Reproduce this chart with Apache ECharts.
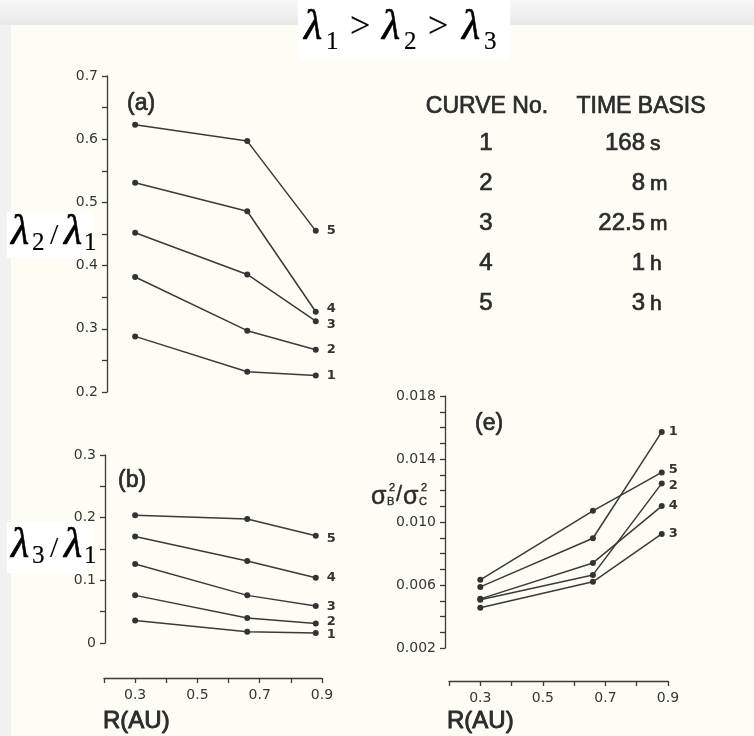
<!DOCTYPE html>
<html>
<head>
<meta charset="utf-8">
<script src="https://cdn.jsdelivr.net/npm/echarts@6/dist/echarts.min.js"></script>
<style>
  html, body { margin: 0; padding: 0; background: #fdfdf6; }
  #chart { width: 754px; height: 736px; }
</style>
</head>
<body>
<div id="chart"></div>
<script>
// Heliocentric distance of the three observation points (AU)
const radius = [0.3, 0.66, 0.88];

// Curve numbers and their time bases
const curveIds = ['1', '2', '3', '4', '5'];
const timeValues = ['168', '8', '22.5', '1', '3'];
const timeUnits = ['s', 'm', 'm', 'h', 'h'];

// (a) eigenvalue ratio lambda2 / lambda1, one row per curve
const ratio21 = [
  [0.288, 0.232, 0.226],
  [0.382, 0.297, 0.267],
  [0.452, 0.386, 0.312],
  [0.531, 0.486, 0.327],
  [0.623, 0.597, 0.455]
];

// (b) eigenvalue ratio lambda3 / lambda1
const ratio31 = [
  [0.036, 0.018, 0.016],
  [0.076, 0.040, 0.031],
  [0.126, 0.076, 0.059],
  [0.170, 0.131, 0.104],
  [0.204, 0.198, 0.171]
];

// (e) variance ratio sigma_B^2 / sigma_C^2
const varRatio = [
  [0.00588, 0.00897, 0.01572],
  [0.00506, 0.00664, 0.01245],
  [0.00455, 0.00620, 0.00924],
  [0.00512, 0.00740, 0.01101],
  [0.00633, 0.01071, 0.01315]
];

// Tick labels
const xTickLabels = ['0.3', '0.5', '0.7', '0.9'];
const yTickLabelsA = ['0.2', '0.3', '0.4', '0.5', '0.6', '0.7'];
const yTickLabelsB = ['0', '0.1', '0.2', '0.3'];
const yTickLabelsE = ['0.002', '0.006', '0.010', '0.014', '0.018'];

const INK = '#3a3a3a';
const TEXT = '#2b2b2b';
const SANS = '"Liberation Sans", Arial, Helvetica, sans-serif';
const WIDE = '"DejaVu Sans", Verdana, sans-serif';
const SERIF = '"Liberation Serif", "Times New Roman", serif';

function pick(labels) {
  return function (v) {
    const hit = labels.find(t => Math.abs(parseFloat(t) - v) < 1e-9);
    return hit === undefined ? '' : hit;
  };
}

const tickLabelStyle = { color: '#363636', fontSize: 14, fontFamily: WIDE };

function yAxisFor(gridIndex, min, max, step, labels, offset) {
  return {
    type: 'value', gridIndex, min, max, interval: step, offset: offset || 0,
    axisLine: { show: true, onZero: false, lineStyle: { color: INK, width: 1.3 } },
    axisTick: { show: true, length: 5, lineStyle: { color: INK, width: 1.3 } },
    axisLabel: Object.assign({ margin: 9, formatter: pick(labels),
      showMinLabel: true, showMaxLabel: true }, tickLabelStyle),
    splitLine: { show: false }
  };
}

function xAxisFor(gridIndex, offset, visible) {
  return {
    type: 'value', gridIndex, min: 0.2, max: 0.9, interval: 0.1, show: visible,
    position: 'bottom', offset,
    axisLine: { show: true, onZero: false, lineStyle: { color: INK, width: 1.3 } },
    axisTick: { show: true, length: 5, lineStyle: { color: INK, width: 1.3 } },
    axisLabel: Object.assign({ margin: 10, formatter: pick(xTickLabels),
      showMinLabel: true, showMaxLabel: true }, tickLabelStyle),
    splitLine: { show: false }
  };
}

// end-of-curve number labels; nudges keep close neighbours apart
function curves(values, axisIndex, distance, nudges) {
  return values.map((vals, k) => ({
    type: 'line',
    name: 'curve ' + curveIds[k],
    xAxisIndex: axisIndex,
    yAxisIndex: axisIndex,
    data: vals.map((v, i) => i === vals.length - 1
      ? { value: [radius[i], v], label: { show: true } }
      : [radius[i], v]),
    symbol: 'circle',
    symbolSize: 6,
    showSymbol: true,
    lineStyle: { color: INK, width: 1.5 },
    itemStyle: { color: '#333' },
    label: {
      show: false, position: 'right', distance,
      offset: [0, (nudges && nudges[k]) || 0],
      formatter: () => curveIds[k],
      color: '#333', fontSize: 13, fontWeight: 'bold', fontFamily: WIDE
    },
    silent: true,
    animation: false,
    z: 3
  }));
}

// text element; a thin stroke in the fill colour thickens the strokes a little
function txt(x, y, text, size, opts) {
  const o = opts || {};
  const fill = (o.style && o.style.fill) || TEXT;
  return {
    type: 'text', x, y, z: 120,
    style: Object.assign({
      text, fontSize: size, fontFamily: SANS, fill,
      stroke: fill, lineWidth: o.weight === undefined ? 0.7 : o.weight,
      align: 'left', verticalAlign: 'middle'
    }, o.style || {})
  };
}

const graphics = [];
// paper edges
graphics.push({
  type: 'rect', z: -10, shape: { x: 0, y: 0, width: 754, height: 25 },
  style: { fill: new echarts.graphic.LinearGradient(0, 0, 0, 1, [
    { offset: 0, color: '#f8f8f8' }, { offset: 1, color: '#e9e9e9' }]) }
});
graphics.push({ type: 'rect', z: -10, shape: { x: 0, y: 25, width: 11, height: 711 }, style: { fill: '#f1f1f1' } });
// title box
graphics.push({ type: 'rect', z: 110, shape: { x: 298, y: 0, width: 212, height: 60 }, style: { fill: '#ffffff' } });
// ratio label boxes
graphics.push({ type: 'rect', z: 110, shape: { x: 7, y: 212, width: 86, height: 46 }, style: { fill: '#ffffff' } });
graphics.push({ type: 'rect', z: 110, shape: { x: 7, y: 522, width: 86, height: 51 }, style: { fill: '#ffffff' } });

const serif = { fontFamily: SERIF, fill: '#000' };
const lam = (x, y) => txt(x, y, 'λ', 42, { style: Object.assign({ fontStyle: 'italic' }, serif), weight: 0.6 });
const sub = (x, y, s) => txt(x, y, s, 25, { style: serif, weight: 0.2 });
const gt = (x, y) => txt(x, y, '>', 36, { style: serif, weight: 0.2 });

// title: lambda1 > lambda2 > lambda3
graphics.push(lam(304, 28), sub(326, 42, '1'), gt(350, 28),
  lam(382, 28), sub(404, 42, '2'), gt(428, 28),
  lam(462, 28), sub(484, 42, '3'));

// y-axis names of (a) and (b)
graphics.push(lam(11, 233), sub(32, 243, '2'),
  txt(50, 236, '/', 30, { style: serif, weight: 0.1 }),
  lam(64, 233), sub(84, 243, '1'));
graphics.push(lam(11, 546), sub(32, 556, '3'),
  txt(50, 549, '/', 30, { style: serif, weight: 0.1 }),
  lam(64, 546), sub(84, 556, '1'));

// y-axis name of (e): sigma_B^2 / sigma_C^2
graphics.push(
  txt(371, 497, 'σ', 25, { weight: 0.5 }), txt(387, 502, 'B', 11, { weight: 0.4 }),
  txt(389, 488, '2', 11, { weight: 0.4 }),
  txt(396, 495, '/', 22, { weight: 0.4 }),
  txt(403, 497, 'σ', 25, { weight: 0.5 }), txt(419, 502, 'C', 11, { weight: 0.4 }),
  txt(421, 488, '2', 11, { weight: 0.4 })
);

// panel letters
graphics.push(txt(127, 104, '(a)', 23), txt(118, 481, '(b)', 23), txt(475, 424, '(e)', 23));

// x-axis names
graphics.push(txt(103, 721, 'R(AU)', 24, { weight: 0.9 }), txt(447, 721, 'R(AU)', 24, { weight: 0.9 }));

// legend table
graphics.push(txt(487, 107, 'CURVE No.', 23, { style: { align: 'center' } }));
graphics.push(txt(641, 107, 'TIME BASIS', 23, { style: { align: 'center' } }));
curveIds.forEach((id, k) => {
  const y = 143 + k * 40;
  graphics.push(txt(486, y, id, 24, { style: { align: 'center' } }));
  graphics.push(txt(645, y, timeValues[k], 24, { style: { align: 'right' } }));
  graphics.push(txt(650, y + 1, timeUnits[k], 21, { style: { align: 'left' } }));
});

const chart = echarts.init(document.getElementById('chart'), null, { renderer: 'canvas' });
chart.setOption({
  backgroundColor: '#fdfdf6',
  animation: false,
  grid: [
    { left: 104, top: 76, width: 218, height: 316 },
    { left: 104, top: 455, width: 218, height: 188 },
    { left: 449, top: 396, width: 219, height: 252 }
  ],
  xAxis: [
    xAxisFor(0, 0, false),
    xAxisFor(1, 35, true),
    xAxisFor(2, 33, true)
  ],
  yAxis: [
    yAxisFor(0, 0.2, 0.7, 0.05, yTickLabelsA, -3),
    yAxisFor(1, 0, 0.3, 0.05, yTickLabelsB, -1),
    yAxisFor(2, 0.002, 0.018, 0.001, yTickLabelsE, 4)
  ],
  series: [].concat(
    curves(ratio21, 0, 8, [0, 0, 3, -3, 0]),
    curves(ratio31, 1, 8, [2, -2, 1, 0, 3]),
    curves(varRatio, 2, 4, [0, 2, 0, 0, -3])
  ),
  graphic: graphics
});
</script>
</body>
</html>
